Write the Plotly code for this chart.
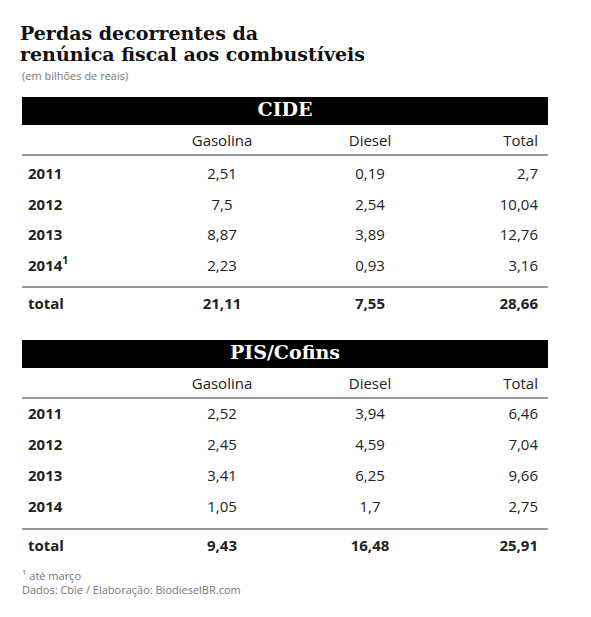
import plotly.graph_objects as go

title_lines = ["Perdas decorrentes da", "renúnica fiscal aos combustíveis"]
subtitle = "(em bilhões de reais)"
columns = ["Gasolina", "Diesel", "Total"]

cide_years = ["2011", "2012", "2013", "2014<sup>1</sup>"]
cide_gasolina = ["2,51", "7,5", "8,87", "2,23"]
cide_diesel = ["0,19", "2,54", "3,89", "0,93"]
cide_total = ["2,7", "10,04", "12,76", "3,16"]
cide_sum = ["21,11", "7,55", "28,66"]

pis_years = ["2011", "2012", "2013", "2014"]
pis_gasolina = ["2,52", "2,45", "3,41", "1,05"]
pis_diesel = ["3,94", "4,59", "6,25", "1,7"]
pis_total = ["6,46", "7,04", "9,66", "2,75"]
pis_sum = ["9,43", "16,48", "25,91"]

footnotes = ["<sup>1</sup> até março", "Dados: Cbie / Elaboração: BiodieselBR.com"]

FONT = "Open Sans"
SERIF = "DejaVu Serif"
X0, X1 = 22, 548
XG, XD, XT, XY = 222, 370, 538, 28

fig = go.Figure()
shapes = []

def txt(xs, ys, texts, pos, size=15, bold=False, color="#222", family=FONT):
    fig.add_trace(go.Scatter(
        x=xs, y=ys, mode="text", text=[f"<b>{t}</b>" if bold else t for t in texts],
        textposition=pos, textfont=dict(family=family, size=size, color=color),
        hoverinfo="skip", showlegend=False, cliponaxis=False))

def block(name, ytop, years, g, d, t, sums, row_ys, ytot):
    shapes.append(dict(type="rect", x0=X0, x1=X1, y0=ytop, y1=ytop + 28,
                       fillcolor="black", line_width=0, layer="below"))
    txt([(X0 + X1) / 2], [ytop + 14], [name], "middle center", 19, True, "white", SERIF)
    hy = ytop + 45
    txt([XG, XD], [hy, hy], columns[:2], "middle center", 15)
    txt([XT], [hy], columns[2:], "middle left", 15)
    shapes.append(dict(type="line", x0=X0, x1=X1, y0=hy + 13, y1=hy + 13,
                       line=dict(color="#333", width=1)))
    txt([XY] * len(years), row_ys, years, "middle right", 15, True)
    txt([XG] * len(g), row_ys, g, "middle center", 15)
    txt([XD] * len(d), row_ys, d, "middle center", 15)
    txt([XT] * len(t), row_ys, t, "middle left", 15)
    shapes.append(dict(type="line", x0=X0, x1=X1, y0=ytot - 18, y1=ytot - 18,
                       line=dict(color="#333", width=1)))
    txt([XY], [ytot], ["total"], "middle right", 15, True)
    txt([XG, XD], [ytot, ytot], sums[:2], "middle center", 15, True)
    txt([XT], [ytot], sums[2:], "middle left", 15, True)

block("CIDE", 97, cide_years, cide_gasolina, cide_diesel, cide_total, cide_sum,
      [175, 206, 236, 267], 305)
block("PIS/Cofins", 340, pis_years, pis_gasolina, pis_diesel, pis_total, pis_sum,
      [415, 446, 477, 508], 547)

txt([20, 20], [35, 56], title_lines, "middle right", 19, True, "#111", SERIF)
txt([22], [77], [subtitle], "middle right", 11, False, "#777")
txt([22, 22], [577, 591], footnotes, "middle right", 11, False, "#777")

fig.update_layout(
    width=591, height=617, margin=dict(l=0, r=0, t=0, b=0),
    paper_bgcolor="white", plot_bgcolor="white", shapes=shapes,
    xaxis=dict(range=[8, 599], visible=False, fixedrange=True),
    yaxis=dict(range=[625, 8], visible=False, fixedrange=True),
)
fig.write_html("out.html", config={"displayModeBar": False})
